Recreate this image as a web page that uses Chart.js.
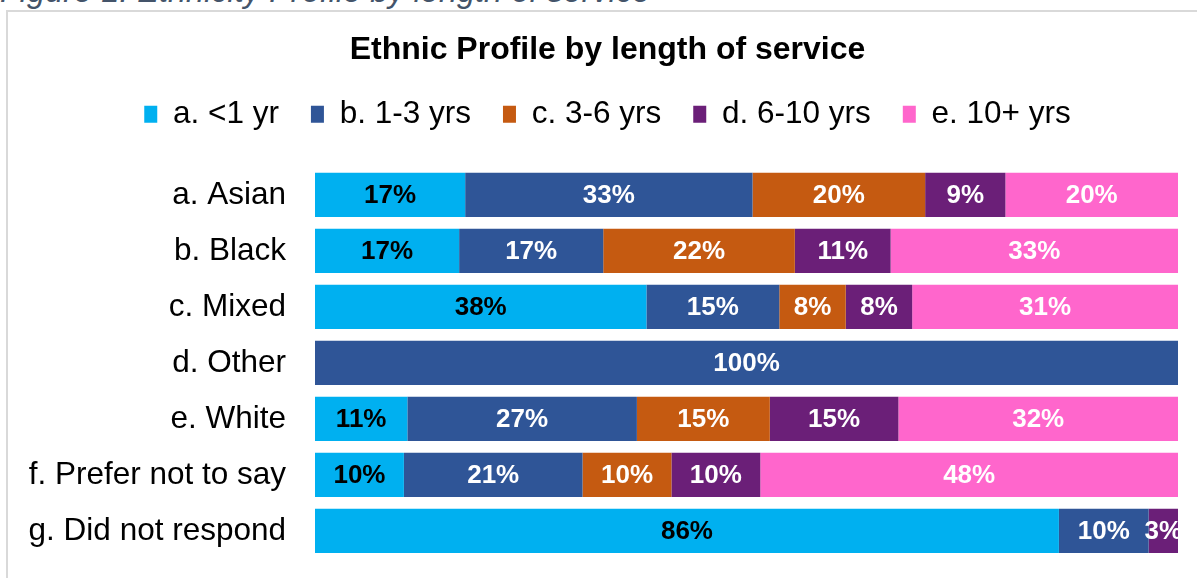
<!DOCTYPE html>
<html>
<head>
<meta charset="utf-8">
<script src="https://cdn.jsdelivr.net/npm/chart.js@4.4.1/dist/chart.umd.min.js"></script>
<style>
  body { margin: 0; background: #fff; overflow: hidden; }
  #caption {
    position: absolute; left: 0; top: -25px; white-space: nowrap;
    font: italic 32.5px/32px "Liberation Sans", Arial, sans-serif; color: #44546a;
  }
  #frame {
    position: absolute; left: 6px; top: 10px; width: 1300px; height: 700px;
    border: 2px solid #d9d9d9;
  }
  #ethnicChart { position: absolute; left: 0; top: 0; }
</style>
</head>
<body>
<div id="caption">Figure 1: Ethnicity Profile by length of service</div>
<div id="frame"></div>
<canvas id="ethnicChart" width="1197" height="578"></canvas>
<script>
const ethnicGroups = ['a. Asian', 'b. Black', 'c. Mixed', 'd. Other', 'e. White', 'f. Prefer not to say', 'g. Did not respond'];

// share of each group by length of service (%)
const underOneYear = [17.4, 16.7, 38.4, 0, 10.7, 10.3, 86.2];
const oneToThree   = [33.3, 16.7, 15.4, 100, 26.6, 20.7, 10.4];
const threeToSix   = [20.0, 22.2, 7.7, 0, 15.4, 10.3, 0];
const sixToTen     = [9.3, 11.1, 7.7, 0, 14.9, 10.3, 3.4];
const tenPlus      = [20.0, 33.3, 30.8, 0, 32.4, 48.4, 0];

const FONT = '"Liberation Sans", Arial, sans-serif';

// percentage labels in the middle of each segment
const barLabels = {
  id: 'barLabels',
  afterDatasetsDraw(chart) {
    const { ctx, chartArea } = chart;
    ctx.save();
    ctx.beginPath();
    ctx.rect(chartArea.left, chartArea.top, chartArea.width, chartArea.height);
    ctx.clip();
    ctx.font = 'bold 26px ' + FONT;
    ctx.textAlign = 'center';
    ctx.textBaseline = 'middle';
    chart.data.datasets.forEach((ds, i) => {
      chart.getDatasetMeta(i).data.forEach((bar, j) => {
        const v = ds.data[j];
        if (!v) return;
        ctx.fillStyle = i === 0 ? '#000000' : '#ffffff';
        ctx.fillText(Math.round(v) + '%', (bar.x + bar.base) / 2, bar.y + 1);
      });
    });
    ctx.restore();
  }
};

// let the long category names run past the axis box on the left
const wideLabels = {
  id: 'wideLabels',
  afterLayout(chart) {
    chart.scales.y.left = 0;
  }
};

const ethnicChart = new Chart(document.getElementById('ethnicChart'), {
  type: 'bar',
  data: {
    labels: ethnicGroups,
    datasets: [
      { label: 'a. <1 yr', data: underOneYear, backgroundColor: '#00b0f0' },
      { label: 'b. 1-3 yrs', data: oneToThree, backgroundColor: '#2f5597' },
      { label: 'c. 3-6 yrs', data: threeToSix, backgroundColor: '#c55a11' },
      { label: 'd. 6-10 yrs', data: sixToTen, backgroundColor: '#6b1f78' },
      { label: 'e. 10+ yrs', data: tenPlus, backgroundColor: '#ff66cc' }
    ]
  },
  options: {
    indexAxis: 'y',
    responsive: false,
    animation: false,
    datasets: {
      bar: { categoryPercentage: 1, barPercentage: 0.79 }
    },
    layout: {
      padding: { left: 37, right: 19, top: 10, bottom: 19 }
    },
    scales: {
      x: {
        stacked: true,
        min: 0,
        max: 100,
        position: 'top',
        grid: { display: false, drawTicks: false },
        border: { display: false },
        ticks: { display: false },
        afterFit: (scale) => { scale.height = 27; }
      },
      y: {
        stacked: true,
        grid: { display: false, drawTicks: false },
        border: { display: false },
        ticks: {
          padding: 29,
          color: '#000000',
          font: { family: FONT, size: 31.5 }
        },
        afterFit: (scale) => {
          scale.width = 278;
          scale.paddingTop = 0;
          scale.paddingBottom = 0;
        }
      }
    },
    plugins: {
      title: {
        display: true,
        text: 'Ethnic Profile by length of service',
        color: '#000000',
        font: { family: FONT, size: 32, weight: 'bold' },
        padding: { top: 21, bottom: -3 }
      },
      legend: {
        display: true,
        position: 'top',
        labels: {
          color: '#000000',
          font: { family: FONT, size: 31.5 },
          boxWidth: 13,
          boxHeight: 17,
          padding: 32
        }
      },
      tooltip: { enabled: false }
    }
  },
  plugins: [barLabels, wideLabels]
});
</script>
</body>
</html>
